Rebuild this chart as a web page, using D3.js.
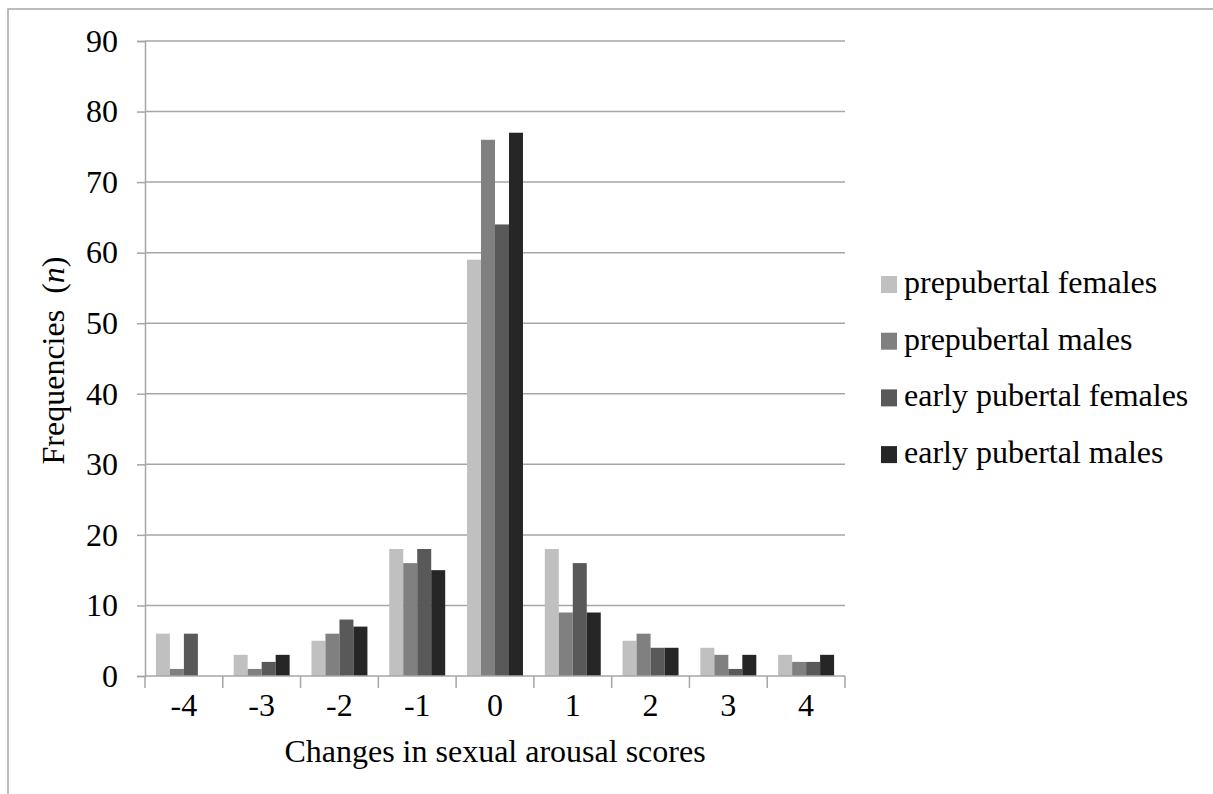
<!DOCTYPE html>
<html>
<head>
<meta charset="utf-8">
<script src="https://cdn.jsdelivr.net/npm/d3@7"></script>
<style>
  body { margin: 0; background: #fff; }
  svg text { font-family: "Liberation Serif", "Times New Roman", serif; fill: #000; font-size: 32px; }
  .axis path, .axis line { stroke: #a6a6a6; stroke-width: 1.5; }
</style>
</head>
<body>
<svg id="chart" width="1213" height="794"></svg>
<script>
// categories on x axis
var scores = ["-4", "-3", "-2", "-1", "0", "1", "2", "3", "4"];

// groups and their fill colours
var groups = ["prepubertal females", "prepubertal males", "early pubertal females", "early pubertal males"];
var colors = ["#c0c0c0", "#808080", "#595959", "#262626"];

// frequencies per group, one value per score
var prepubFemales = [6, 3, 5, 18, 59, 18, 5, 4, 3];
var prepubMales = [1, 1, 6, 16, 76, 9, 6, 3, 2];
var earlyFemales = [6, 2, 8, 18, 64, 16, 4, 1, 2];
var earlyMales = [0, 3, 7, 15, 77, 9, 4, 3, 3];

var yTicks = [0, 10, 20, 30, 40, 50, 60, 70, 80, 90];

var series = [prepubFemales, prepubMales, earlyFemales, earlyMales];

var svg = d3.select("#chart"),
    margin = {top: 41, left: 145, right: 368, bottom: 118},
    width = 1213 - margin.left - margin.right,
    height = 794 - margin.top - margin.bottom;

// outer frame (runs off the right and bottom edges)
svg.append("rect")
    .attr("x", 8).attr("y", 9)
    .attr("width", 1300).attr("height", 900)
    .attr("fill", "none").attr("stroke", "#a6a6a6").attr("stroke-width", 1.5);

var g = svg.append("g").attr("transform", "translate(" + margin.left + "," + margin.top + ")");

var x = d3.scaleBand().domain(scores).range([0, width]).paddingInner(0).paddingOuter(0);
var x1 = d3.scaleBand().domain(d3.range(groups.length)).range([0, x.bandwidth()]).paddingOuter(0.78).paddingInner(0);
var y = d3.scaleLinear().domain([0, 90]).range([height, 0]);

// gridlines
g.append("g")
    .selectAll("line")
    .data(yTicks.slice(1))
    .enter().append("line")
    .attr("x1", 0).attr("x2", width)
    .attr("y1", function(d) { return y(d); })
    .attr("y2", function(d) { return y(d); })
    .attr("stroke", "#a6a6a6").attr("stroke-width", 1.5);

// bars
var grp = g.selectAll(".grp")
    .data(series)
    .enter().append("g")
    .attr("fill", function(d, i) { return colors[i]; });

grp.each(function(vals, i) {
  d3.select(this).selectAll("rect")
    .data(vals)
    .enter().append("rect")
    .attr("x", function(d, j) { return x(scores[j]) + x1(i); })
    .attr("width", x1.bandwidth())
    .attr("y", function(d) { return y(d); })
    .attr("height", function(d) { return height - y(d); });
});

// y axis
var yAxis = g.append("g")
    .attr("class", "axis")
    .call(d3.axisLeft(y).tickValues(yTicks).tickSize(8).tickPadding(19));
yAxis.attr("font-size", null).attr("font-family", null);

// x axis with ticks on category boundaries
var xAxis = g.append("g")
    .attr("class", "axis")
    .attr("transform", "translate(0," + height + ")")
    .call(d3.axisBottom(x).tickSize(0).tickPadding(17));
xAxis.attr("font-size", null).attr("font-family", null);
xAxis.select(".domain").remove();
xAxis.append("line").attr("x1", 0).attr("x2", width).attr("stroke", "#a6a6a6").attr("stroke-width", 1.5);
xAxis.selectAll(".sep")
    .data(d3.range(scores.length + 1))
    .enter().append("line")
    .attr("x1", function(d) { return d * x.bandwidth(); })
    .attr("x2", function(d) { return d * x.bandwidth(); })
    .attr("y1", 0).attr("y2", 12)
    .attr("stroke", "#a6a6a6").attr("stroke-width", 1.5);

// axis titles
svg.append("text")
    .attr("x", margin.left + width / 2)
    .attr("y", 762)
    .attr("text-anchor", "middle")
    .text("Changes in sexual arousal scores");

var yt = svg.append("text")
    .attr("transform", "translate(64," + (margin.top + height / 2 + 2) + ") rotate(-90)")
    .attr("text-anchor", "middle");
yt.append("tspan").text("Frequencies\u00a0\u00a0(");
yt.append("tspan").style("font-style", "italic").text("n");
yt.append("tspan").text(")");

// legend
var legend = svg.selectAll(".legend")
    .data(groups)
    .enter().append("g")
    .attr("transform", function(d, i) { return "translate(881," + (293 + i * 56.7) + ")"; });

legend.append("rect")
    .attr("x", 0).attr("y", -17)
    .attr("width", 16).attr("height", 17)
    .attr("fill", function(d, i) { return colors[i]; });

legend.append("text")
    .attr("x", 23).attr("y", 0)
    .text(function(d) { return d; });
</script>
</body>
</html>
